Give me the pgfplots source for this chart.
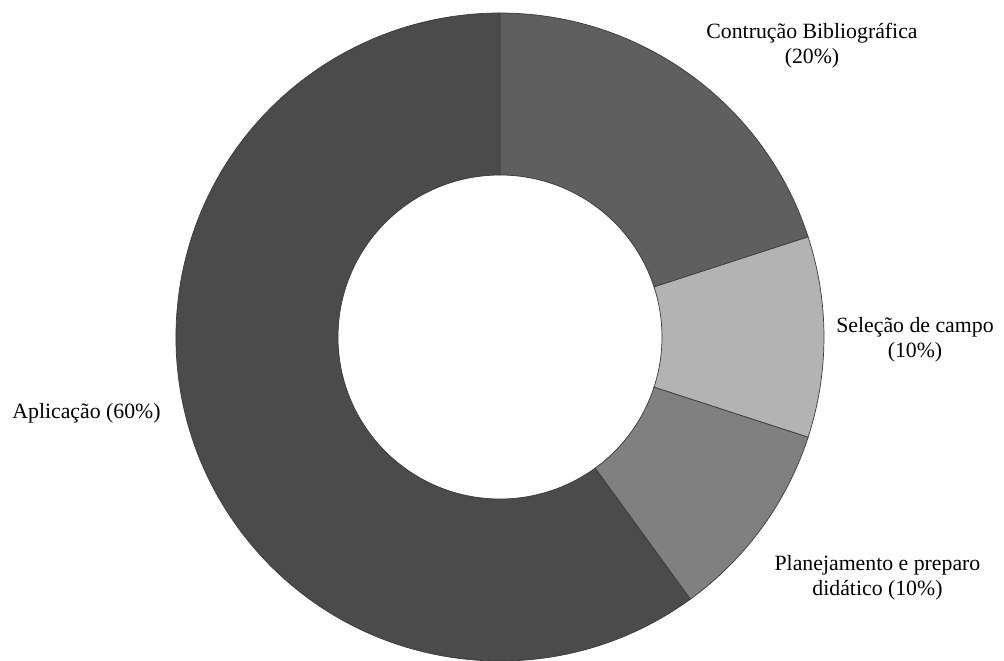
\documentclass[border=0pt]{standalone}
\usepackage{pgfplots}
\pgfplotsset{compat=1.18}
\usepackage{fontspec}
\setmainfont{Liberation Serif}
\definecolor{cA}{HTML}{5F5F5F}
\definecolor{cB}{HTML}{B3B3B3}
\definecolor{cC}{HTML}{808080}
\definecolor{cD}{HTML}{4B4B4B}
\definecolor{edge}{HTML}{3A3A3A}
% data (percent)
\def\vA{20}\def\vB{10}\def\vC{10}\def\vD{60}
\pgfmathsetmacro\aA{90}
\pgfmathsetmacro\aB{\aA-3.6*\vA}
\pgfmathsetmacro\aC{\aB-3.6*\vB}
\pgfmathsetmacro\aD{\aC-3.6*\vC}
\pgfmathsetmacro\aE{\aD-3.6*\vD}
\newcommand\donutwedge[3]{% start, end, colour
  \filldraw[fill=#3,draw=edge,line width=0.5pt]
    (axis cs:{500+324*cos(#1)},{323+324*sin(#1)})
    arc[start angle=#1,end angle=#2,radius=81mm]
    -- (axis cs:{500+162*cos(#2)},{323+162*sin(#2)})
    arc[start angle=#2,end angle=#1,radius=40.5mm] -- cycle;}
\begin{document}
\begin{tikzpicture}
\begin{axis}[x=0.25mm,y=0.25mm,xmin=0,xmax=1004,ymin=0,ymax=660,
  hide axis,scale only axis,clip=false,anchor=origin,at={(0,0)},
  nodes={font=\fontsize{15.5}{17.8}\selectfont,align=center,text=black}]
\donutwedge{\aD}{\aE}{cD}
\donutwedge{\aA}{\aB}{cA}
\donutwedge{\aC}{\aD}{cC}
\donutwedge{\aB}{\aC}{cB}
\node at (axis cs:812,614.5) {Contrução Bibliográfica\\(20\%)};
\node at (axis cs:915,320.5) {Seleção de campo\\(10\%)};
\node at (axis cs:86.5,247) {Aplicação (60\%)};
\node at (axis cs:877.5,82.5) {Planejamento e preparo\\didático (10\%)};
\end{axis}
\pgfresetboundingbox
\path (0,0) rectangle (251mm,165mm);
\end{tikzpicture}
\end{document}
